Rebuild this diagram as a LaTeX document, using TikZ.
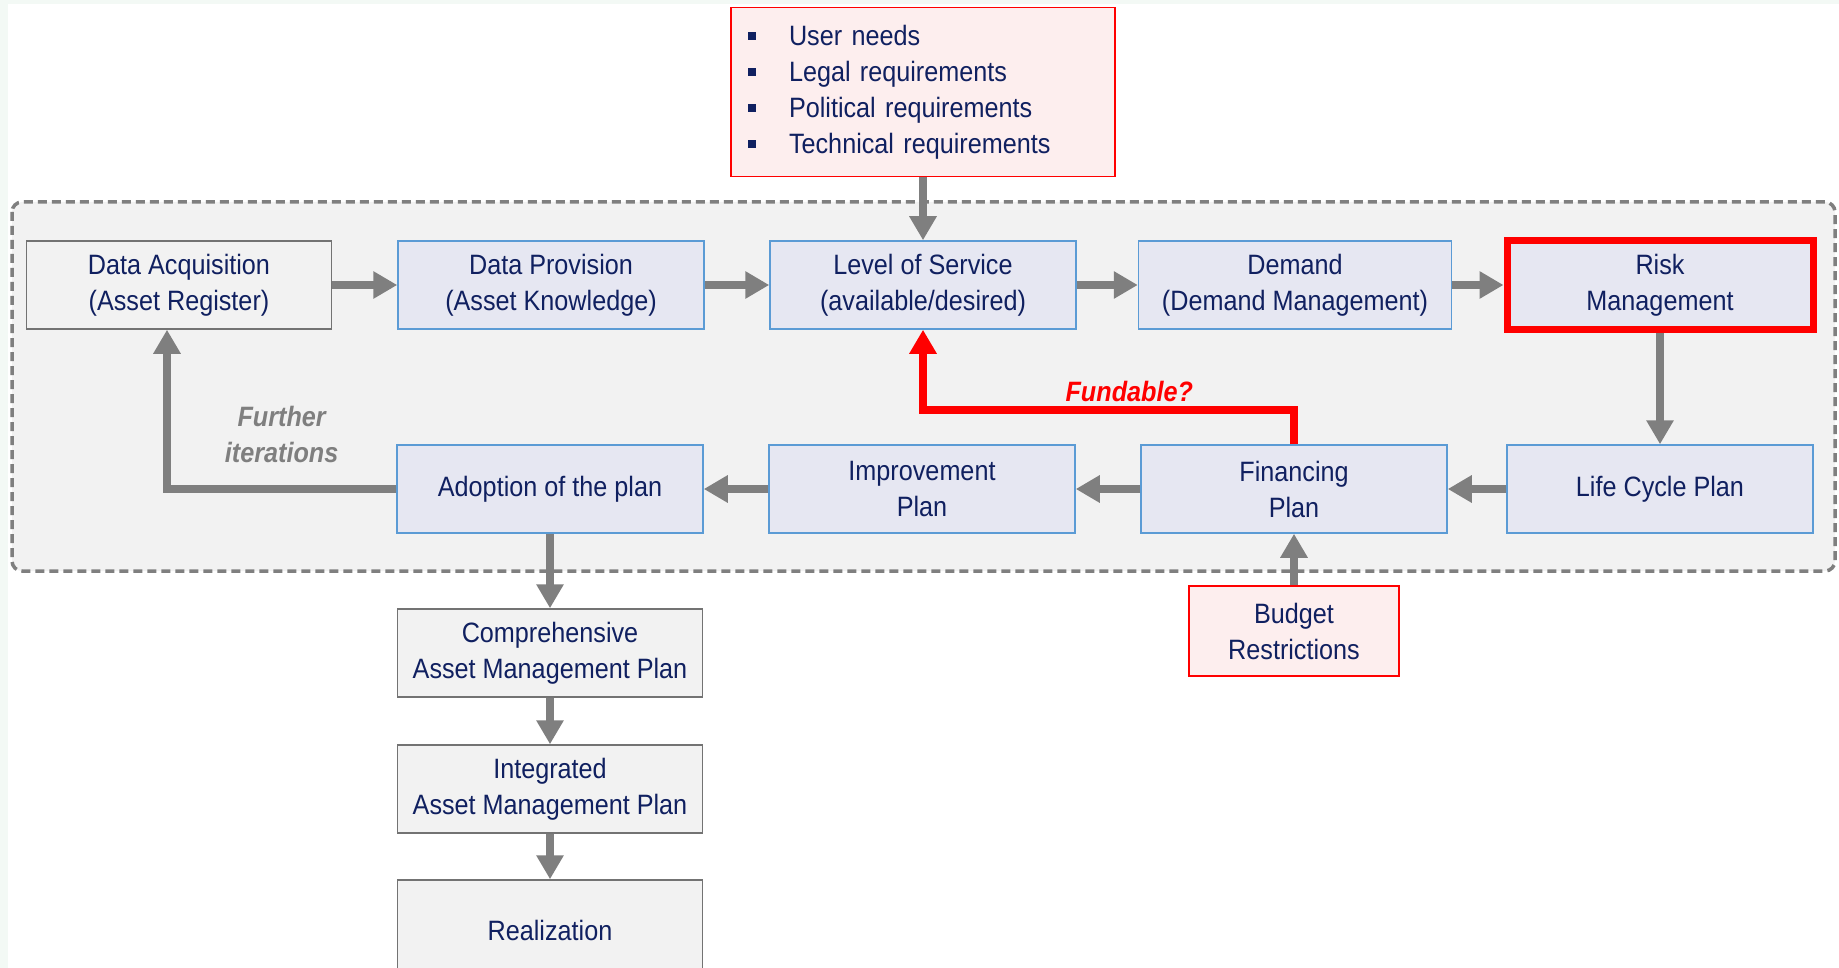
\documentclass[tikz,border=0pt]{standalone}
\usepackage{fontspec}
\setmainfont[FakeStretch=0.9]{Liberation Sans}
\usetikzlibrary{arrows.meta}
\definecolor{navytext}{RGB}{16,32,96}
\definecolor{boxblue}{RGB}{91,155,213}
\definecolor{fillblue}{RGB}{230,231,242}
\definecolor{regiongray}{RGB}{242,242,242}
\definecolor{arrowgray}{RGB}{127,127,127}
\definecolor{fillpink}{RGB}{253,238,238}
\definecolor{mintedge}{RGB}{243,249,245}
\newcommand{\sqbullet}{\rule[5pt]{8pt}{8pt}\hspace{33pt}}

\begin{document}
\begin{tikzpicture}[
    node distance=372pt,
    every node/.style={font=\fontsize{28pt}{36pt}\selectfont, text=navytext},
    stage/.style={draw=boxblue, line width=1.5pt, fill=fillblue, minimum width=306pt, minimum height=88pt, align=center},
    plainbox/.style={draw=black!55, line width=1.5pt, fill=regiongray, minimum width=305pt, minimum height=88pt, align=center},
    inputbox/.style={draw=red, line width=1.5pt, fill=fillpink, align=center},
    flow/.style={draw=arrowgray, line width=8pt, -{Triangle[width=26pt,length=24pt]}},
    fundflow/.style={draw=red, line width=8pt, -{Triangle[width=26pt,length=24pt]}},
  ]
  \useasboundingbox (0,0) rectangle (1839pt,-968pt);
  \fill[mintedge] (0,0) rectangle (1839pt,-968pt);
  \fill[white] (8pt,-4pt) rectangle (1839pt,-968pt);

  % planning cycle
  \draw[arrowgray, line width=3.5pt, dash pattern=on 9pt off 5pt, fill=regiongray, rounded corners=10pt]
    (12pt,-202pt) rectangle (1835pt,-571pt);

  \node[plainbox] (acq) at (179pt,-285pt) {Data Acquisition\\(Asset Register)};
  \node[stage, right of=acq] (prov) {Data Provision\\(Asset Knowledge)};
  \node[stage, right of=prov] (los) {Level of Service\\(available/desired)};
  \node[stage, right of=los, minimum width=313pt] (dem) {Demand\\(Demand Management)};
  \node[stage, right of=dem, xshift=-7pt, draw=red, line width=7pt] (risk) {Risk\\Management};
  \node[stage, below of=risk, node distance=204pt] (lcp) {Life Cycle Plan};
  \node[stage, left of=lcp, xshift=6pt] (fin) {Financing\\Plan};
  \node[stage, left of=fin] (imp) {Improvement\\Plan};
  \node[stage, left of=imp] (adopt) {Adoption of the plan};

  \node[plainbox, below of=adopt, node distance=164pt] (camp) {Comprehensive\\Asset Management Plan};
  \node[plainbox, below of=camp, node distance=136pt] (iamp) {Integrated\\Asset Management Plan};
  \node[plainbox, below of=iamp, node distance=141pt, minimum height=100pt] (real) {Realization};

  % inputs
  \node[inputbox, above of=los, node distance=193pt, text width=350pt, inner xsep=17pt,
        minimum height=169pt, align=left] (req)
    {\sqbullet User needs\\\sqbullet Legal requirements\\\sqbullet Political requirements\\\sqbullet Technical requirements};
  \node[inputbox, below of=fin, node distance=142pt, minimum width=210pt, minimum height=90pt] (budget)
    {Budget\\Restrictions};

  \draw[flow] (acq) -- (prov);
  \draw[flow] (prov) -- (los);
  \draw[flow] (los) -- (dem);
  \draw[flow] (dem) -- (risk);
  \draw[flow] (risk) -- (lcp);
  \draw[flow] (lcp) -- (fin);
  \draw[flow] (fin) -- (imp);
  \draw[flow] (imp) -- (adopt);
  \draw[flow] (adopt) -- (camp);
  \draw[flow] (camp) -- (iamp);
  \draw[flow] (iamp) -- (real);
  \draw[flow] (req) -- (los);
  \draw[flow] (budget) -- (fin);
  \draw[flow] (adopt.west) -| node[pos=0.25, yshift=55pt, align=center, text=arrowgray,
      font=\fontsize{28pt}{36pt}\selectfont\bfseries\itshape] {Further\\iterations}
    ([xshift=-12pt]acq.south);
  \draw[fundflow] (fin.north) -- ++(0,34pt) -| node[pos=0.222, yshift=19pt, text=red,
      font=\fontsize{28pt}{36pt}\selectfont\bfseries\itshape] {Fundable?}
    (los.south);
\end{tikzpicture}
\end{document}
